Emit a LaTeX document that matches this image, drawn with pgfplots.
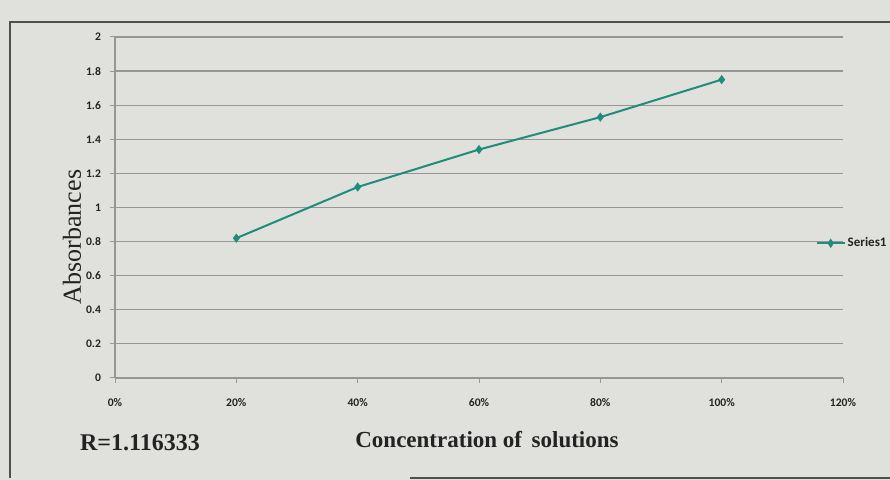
\documentclass[border=0pt]{standalone}
\usepackage{pgfplots}
\pgfplotsset{compat=1.18}
\usepackage{fontspec}
\setmainfont{Liberation Serif}
\newfontfamily\calfont{Carlito}
\definecolor{paper}{RGB}{224,224,221}
\definecolor{series}{RGB}{32,140,122}
\definecolor{gridc}{RGB}{150,150,150}
\definecolor{ink}{RGB}{35,35,35}
\begin{document}
\begin{tikzpicture}[x=0.5pt,y=0.5pt]
\useasboundingbox (0,0) rectangle (890,480);
\fill[paper] (0,0) rectangle (890,480);
\draw[ink!80,line width=1.2pt] (10,2) -- (10,458) -- (900,458);
\draw[ink!80,line width=1pt] (410,2) -- (900,2);
\begin{axis}[
  at={(57.5pt,51pt)}, anchor=south west,
  scale only axis, width=364pt, height=170.5pt,
  xmin=0, xmax=1.2, ymin=0, ymax=2,
  xtick={0,0.2,0.4,0.6,0.8,1.0,1.2},
  xticklabels={0\%,20\%,40\%,60\%,80\%,100\%,120\%},
  ytick={0,0.2,0.4,0.6,0.8,1,1.2,1.4,1.6,1.8,2},
  yticklabels={0,0.2,0.4,0.6,0.8,1,1.2,1.4,1.6,1.8,2},
  axis x line=bottom, axis y line=left,
  axis line style={gridc,line width=0.6pt,-},
  tick align=outside, major tick length=2.5pt,
  tick style={gridc,line width=0.5pt},
  ymajorgrids, grid style={gridc,line width=0.6pt},
  ticklabel style={font=\calfont\bfseries\fontsize{5.8}{6}\selectfont, text=ink},
  /pgf/number format/assume math mode=true,
  xticklabel style={yshift=-4pt},
  yticklabel style={xshift=-1pt},
  legend style={at={(rel axis cs:0.962,0.395)}, anchor=west, draw=none, fill=none,
    font=\calfont\bfseries\fontsize{6.5}{7}\selectfont, text=ink, inner sep=0pt,
    legend cell align=left, nodes={inner sep=1pt}},
  clip=false,
]
\addplot[series, line width=1pt, mark=diamond*, mark size=1.5pt, mark options={fill=series},
  legend image code/.code={
    \draw[series,line width=1pt] (0pt,0pt) -- (14pt,0pt);
    \fill[series] (7pt,1.5pt) -- (6pt,0pt) -- (7pt,-1.5pt) -- (8pt,0pt) -- cycle;
  }]
  coordinates {(0.2,0.82) (0.4,1.12) (0.6,1.34) (0.8,1.53) (1.0,1.75)};
\addlegendentry{Series1}
\end{axis}
\node[rotate=90, text=ink, font=\fontsize{13}{15}\selectfont] at (72,243) {Absorbances};
\node[text=ink, font=\bfseries\fontsize{11.5}{14}\selectfont] at (487,40) {Concentration of\, solutions};
\node[text=ink, font=\bfseries\fontsize{12}{14}\selectfont] at (140,37) {R=1.116333};
\end{tikzpicture}
\end{document}
